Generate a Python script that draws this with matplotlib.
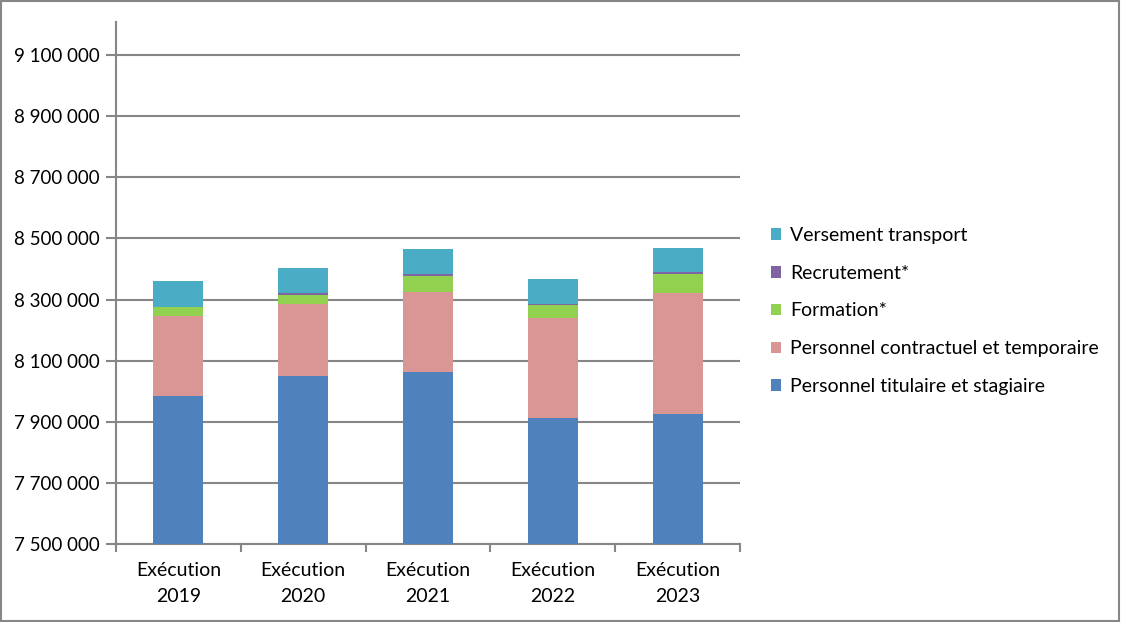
import matplotlib
matplotlib.use("Agg")
import matplotlib.pyplot as plt
from matplotlib.patches import Rectangle
import numpy as np

categories = ["Exécution\n2019", "Exécution\n2020", "Exécution\n2021", "Exécution\n2022", "Exécution\n2023"]
titulaire = [7983000, 8048500, 8063000, 7913000, 7924000]
contractuel = [264500, 237500, 263000, 328000, 396000]
formation = [29500, 28000, 52000, 40000, 65000]
recrutement = [0, 6500, 5000, 3000, 6500]
transport = [82000, 81600, 83000, 81500, 78500]

series = [
    ("Personnel titulaire et stagiaire", titulaire, "#4F81BD"),
    ("Personnel contractuel et temporaire", contractuel, "#D99694"),
    ("Formation*", formation, "#92D050"),
    ("Recrutement*", recrutement, "#8064A2"),
    ("Versement transport", transport, "#4BACC6"),
]

yticks = [7500000, 7700000, 7900000, 8100000, 8300000, 8500000, 8700000, 8900000, 9100000]

plt.rcParams['font.family'] = ['Lato', 'DejaVu Sans']

fig = plt.figure(figsize=(11.21, 6.22), dpi=100)
ax = fig.add_axes([116/1121, 78/622, 624/1121, 522/622])

x = np.arange(len(categories))
gray = "#868686"
ymin = 7500000
bottom = np.zeros(len(categories))
handles = []
for i, (name, vals, col) in enumerate(series):
    vals = np.array(vals, dtype=float)
    if i == 0:
        h = ax.bar(x, vals - ymin, bottom=ymin, width=0.4, color=col, label=name, zorder=3)
        bottom = vals.copy()
    else:
        h = ax.bar(x, vals, bottom=bottom, width=0.4, color=col, label=name, zorder=3)
        bottom = bottom + vals
    handles.append(h)

ax.set_xlim(-0.5, len(categories) - 0.5)
ax.set_ylim(ymin, 9208000)
ax.set_yticks(yticks)
ax.set_yticklabels([f"{v:,}".replace(",", " ") for v in yticks], fontsize=13.5)
ax.yaxis.grid(True, color=gray, linewidth=1.5, zorder=0)
ax.set_axisbelow(True)

ax.set_xticks(x)
ax.set_xticklabels(categories, fontsize=14, linespacing=1.65)
ax.tick_params(axis='x', length=0, pad=13)
ax.set_xticks(np.arange(-0.5, len(categories)), minor=True)
ax.tick_params(axis='x', which='minor', length=6, width=1.5, color=gray)
ax.tick_params(axis='y', length=7, width=1.5, color=gray, pad=5)

for side in ["top", "right"]:
    ax.spines[side].set_visible(False)
for side in ["left", "bottom"]:
    ax.spines[side].set_color(gray)
    ax.spines[side].set_linewidth(1.5)

leg = fig.legend(handles[::-1], [s[0] for s in series][::-1], loc="center left",
                 bbox_to_anchor=(753/1121, 311/622), frameon=False, fontsize=14,
                 handlelength=0.55, handleheight=0.55, handletextpad=0.45, labelspacing=1.07)

fig.patches.append(Rectangle((0.001, 0.002), 0.997, 0.996, transform=fig.transFigure,
                             fill=False, edgecolor=gray, linewidth=1.5))

fig.savefig("out.png", dpi=100)
